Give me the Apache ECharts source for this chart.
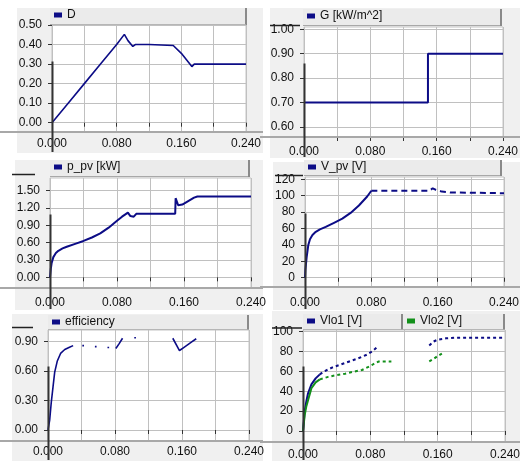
<!DOCTYPE html>
<html><head><meta charset="utf-8">
<script src="https://cdn.jsdelivr.net/npm/echarts@6/dist/echarts.min.js"></script>
<style>html,body{margin:0;padding:0;background:#fff}#c{width:520px;height:461px}</style>
</head><body><div id="c"></div>
<script>
// ---------- DATA ----------
const xLabelValues = [0, 0.08, 0.16, 0.24];
const xLabelTexts = ['0.000', '0.080', '0.160', '0.240'];

const dTicks = [0, 0.1, 0.2, 0.3, 0.4, 0.5];
const gTicks = [0.6, 0.7, 0.8, 0.9, 1.0];
const pTicks = [0, 0.3, 0.6, 0.9, 1.2, 1.5];
const vTicks = [0, 20, 40, 60, 80, 100, 120];
const eTicks = [0, 0.3, 0.6, 0.9];
const vloTicks = [0, 20, 40, 60, 80, 100];

const names = ['D', 'G [kW/m^2]', 'p_pv [kW]', 'V_pv [V]', 'efficiency', 'Vlo1 [V]', 'Vlo2 [V]'];

const dTime = [0, 0.02, 0.04, 0.06, 0.08, 0.0895, 0.094, 0.100, 0.103, 0.12, 0.150, 0.160, 0.173, 0.176, 0.20, 0.24];
const dVal  = [0, 0.10, 0.20, 0.30, 0.40, 0.452, 0.42, 0.39, 0.40, 0.40, 0.395, 0.355, 0.287, 0.30, 0.30, 0.30];

const gTime = [0, 0.1495, 0.1495, 0.24];
const gVal  = [0.70, 0.70, 0.90, 0.90];

const pTime = [0, 0.001, 0.002, 0.004, 0.007, 0.010, 0.015, 0.020, 0.030, 0.040, 0.050, 0.060, 0.070, 0.080, 0.086, 0.090, 0.093, 0.096, 0.100, 0.103, 0.130, 0.1495, 0.150, 0.153, 0.158, 0.165, 0.172, 0.176, 0.200, 0.240];
const pVal  = [0, 0.15, 0.25, 0.35, 0.42, 0.46, 0.50, 0.53, 0.58, 0.63, 0.69, 0.76, 0.86, 0.98, 1.05, 1.09, 1.12, 1.06, 1.05, 1.10, 1.10, 1.10, 1.37, 1.25, 1.26, 1.32, 1.38, 1.40, 1.40, 1.40];

const vTime = [0, 0.0005, 0.002, 0.004, 0.006, 0.009, 0.013, 0.018, 0.025, 0.035, 0.045, 0.055, 0.065, 0.075, 0.080];
const vVal  = [0, 10, 25, 40, 47, 52, 56, 59, 62, 67, 72, 79, 88, 99, 106];
const vTime2 = [0.080, 0.150, 0.154, 0.158, 0.165, 0.175, 0.240];
const vVal2  = [106, 106, 109, 107, 105, 104, 103];

const eTime = [0, 0.002, 0.004, 0.006, 0.008, 0.011, 0.015, 0.020, 0.025, 0.030, 0.035, 0.041, 0.043, 0.050, 0.056, 0.058, 0.065, 0.071, 0.073, 0.077, 0.081, 0.085, 0.089, 0.096, 0.103, 0.105, 0.130, 0.149, 0.157, 0.162, 0.167, 0.172, 0.177];
const eVal  = [0, 0.10, 0.29, 0.44, 0.59, 0.70, 0.78, 0.82, 0.84, 0.86, null, 0.86, 0.86, null, 0.85, 0.85, null, 0.84, 0.84, null, 0.83, 0.88, 0.935, null, 0.94, 0.94, null, 0.935, 0.81, 0.84, 0.87, 0.90, 0.93];

const vlo1SolidT = [0, 0.002, 0.004, 0.006, 0.010, 0.015, 0.020];
const vlo1SolidV = [0, 20, 30, 38, 47, 53, 57];
const vlo1DotT = [0.020, 0.025, 0.035, 0.045, 0.055, 0.065, 0.075, 0.082, 0.088, 0.120, 0.150, 0.155, 0.160, 0.170, 0.180, 0.240];
const vlo1DotV = [57, 60, 64, 67, 70, 73, 76.5, 80, 84.5, null, 86, 90, 92, 93.3, 94, 94];
const vlo2SolidT = [0, 0.002, 0.004, 0.006, 0.010, 0.015, 0.020];
const vlo2SolidV = [0, 16, 25, 31, 43, 49, 52];
const vlo2DotT = [0.020, 0.030, 0.040, 0.050, 0.060, 0.070, 0.080, 0.085, 0.090, 0.105, 0.130, 0.150, 0.155, 0.160, 0.165];
const vlo2DotV = [52, 54.5, 56.4, 57.7, 59.7, 61.4, 65.4, 68, 70, 70, null, 70, 72.5, 75.5, 78];

// ---------- LAYOUT (pixels) ----------
const FONT = '"Liberation Sans", Arial, sans-serif';
const BLUE = '#0c0c86';
const GREEN = '#12901a';
const layout = [
  {grid:[52,25,194,107],  ymin:-0.0476, ymax:0.5,    ticks:dTicks,   dec:2, xm:6,  bg:[17,8,246,145],   head:[[50,8,197,17]],  sep:[0,263],   mark:null},
  {grid:[304,27,199,110], ymin:0.559,   ymax:1.0094, ticks:gTicks,   dec:2, xm:9,  bg:[270,8,250,150],  head:[[303,9,199,17]], sep:[260,520], mark:[270,300,25.5]},
  {grid:[50,178,201,110], ymin:-0.185,  ymax:1.72,   ticks:pTicks,   dec:2, xm:9,  bg:[15,160,248,150], head:[[50,160,200,17]],sep:[0,263],   mark:[12,35,174.5]},
  {grid:[305,177,199,110],ymin:-11.3,   ymax:122.8,  ticks:vTicks,   dec:0, xm:10, bg:[273,162,247,148],head:[[304,160,198,16]],sep:[260,520], mark:[275,303,175.5]},
  {grid:[48,330,201,111], ymin:-0.112,  ymax:1.019,  ticks:eTicks,   dec:2, xm:5,  bg:[12,314,251,147], head:[[48,315,201,15]],sep:[0,263],   mark:[12,33,327.5]},
  {grid:[303,330,202,112],ymin:-11.1,   ymax:101.7,  ticks:vloTicks, dec:0, xm:7,  bg:[272,311,248,150],head:[[303,314,100,16],[403,314,102,16]], sep:[260,520], mark:[272,302,328]}
];
const legendNames = [['D'], ['G [kW/m^2]'], ['p_pv [kW]'], ['V_pv [V]'], ['efficiency'], ['Vlo1 [V]'], ['Vlo2 [V]']];
const legendPanel = [0, 1, 2, 3, 4, 5, 5];
const legendHead = [0, 0, 0, 0, 0, 0, 1];

function pairs(ts, vs) { return ts.map((t, i) => [t, vs[i] == null ? '-' : vs[i]]); }

const grids = layout.map(l => ({
  left: l.grid[0], top: l.grid[1], width: l.grid[2], height: l.grid[3],
  show: true, backgroundColor: '#ffffff', borderColor: '#c4c4c4', borderWidth: 1,
  containLabel: false, outerBoundsMode: 'none'
}));

const xAxes = layout.map((l, i) => ({
  type: 'value', gridIndex: i, min: 0, max: 0.24, interval: 0.04,
  axisLine: {show: false},
  axisTick: {show: true, length: 4, lineStyle: {color: '#333', width: 1}},
  axisLabel: {
    margin: l.xm, fontSize: 12, color: '#111', fontFamily: FONT,
    formatter: v => {
      const k = xLabelValues.findIndex(x => Math.abs(x - v) < 1e-6);
      return k >= 0 ? xLabelTexts[k] : '';
    }
  },
  splitLine: {show: true, lineStyle: {color: '#c0c0c0', width: 1}}
}));

const yAxes = layout.map((l, i) => ({
  type: 'value', gridIndex: i, min: l.ymin, max: l.ymax, offset: 5,
  axisLine: {show: false},
  axisTick: {show: true, length: 4, customValues: l.ticks, lineStyle: {color: '#333', width: 1}},
  axisLabel: {customValues: l.ticks, margin: 5, fontSize: 12, color: '#111', fontFamily: FONT,
    formatter: v => v.toFixed(l.dec)},
  splitLine: {show: true, lineStyle: {color: '#c0c0c0', width: 1}}
}));

function line(name, gi, data, color, width, type) {
  return {
    name, type: 'line', xAxisIndex: gi, yAxisIndex: gi, data,
    showSymbol: false, connectNulls: false, animation: false, silent: true,
    lineStyle: {color, width, type: type || 'solid'}, itemStyle: {color}
  };
}

const series = [
  line(names[0], 0, pairs(dTime, dVal), BLUE, 1.6),
  line(names[1], 1, pairs(gTime, gVal), BLUE, 2),
  line(names[2], 2, pairs(pTime, pVal), BLUE, 2),
  line(names[3], 3, pairs(vTime, vVal), BLUE, 2),
  line(names[3], 3, pairs(vTime2, vVal2), BLUE, 2, [6, 4]),
  line(names[4], 4, pairs(eTime, eVal), BLUE, 1.6),
  line(names[5], 5, pairs(vlo1SolidT, vlo1SolidV), BLUE, 2),
  line(names[5], 5, pairs(vlo1DotT, vlo1DotV), BLUE, 2, [3, 3]),
  line(names[6], 5, pairs(vlo2SolidT, vlo2SolidV), GREEN, 2),
  line(names[6], 5, pairs(vlo2DotT, vlo2DotV), GREEN, 2, [3, 3])
];

const legends = legendNames.map((d, k) => {
  const h = layout[legendPanel[k]].head[legendHead[k]];
  return {
    data: d, left: h[0] + 4, top: h[1] + 1, padding: 0, itemGap: 0,
    itemWidth: 8, itemHeight: 5, icon: 'rect', selectedMode: false,
    textStyle: {fontSize: 12, color: '#111', fontFamily: FONT}
  };
});

const chart = echarts.init(document.getElementById('c'), null, {renderer: 'canvas'});
chart.setOption({
  backgroundColor: '#ffffff', animation: false,
  grid: grids, xAxis: xAxes, yAxis: yAxes, legend: legends, series
});

// ---------- decorations ----------
const g = [];
layout.forEach((l, i) => {
  g.push({type: 'rect', z: -10, silent: true, shape: {x: l.bg[0], y: l.bg[1], width: l.bg[2], height: l.bg[3]}, style: {fill: '#f0f0f0'}});
  l.head.forEach(h => {
    g.push({type: 'rect', z: -5, silent: true, shape: {x: h[0], y: h[1], width: h[2], height: h[3]}, style: {fill: '#ebebeb'}});
    g.push({type: 'line', z: -4, silent: true, shape: {x1: h[0], y1: h[1] + h[3] - 0.5, x2: h[0] + h[2], y2: h[1] + h[3] - 0.5}, style: {stroke: '#a8a8a8', lineWidth: 1}});
    g.push({type: 'line', z: -4, silent: true, shape: {x1: h[0] + h[2] - 1, y1: h[1], x2: h[0] + h[2] - 1, y2: h[1] + h[3]}, style: {stroke: '#8a8a8a', lineWidth: 2}});
  });
  const bottom = l.grid[1] + l.grid[3];
  g.push({type: 'line', z: 5, silent: true, shape: {x1: l.sep[0], y1: bottom, x2: l.sep[1], y2: bottom}, style: {stroke: '#a8a8a8', lineWidth: 2}});
  if (l.mark) {
    g.push({type: 'line', z: 10, silent: true, shape: {x1: l.mark[0], y1: l.mark[2], x2: l.mark[1], y2: l.mark[2]}, style: {stroke: '#222', lineWidth: 1.5}});
  }
  const p0 = chart.convertToPixel({gridIndex: i}, [0, 0]);
  const x0 = Math.round(p0[0]) + 0.5;
  g.push({type: 'line', z: 10, silent: true, shape: {x1: x0, y1: l.grid[1] + 36.5, x2: x0, y2: l.bg[1] + l.bg[3] - 1}, style: {stroke: '#333', lineWidth: 2}});
});
chart.setOption({graphic: g});
</script></body></html>
